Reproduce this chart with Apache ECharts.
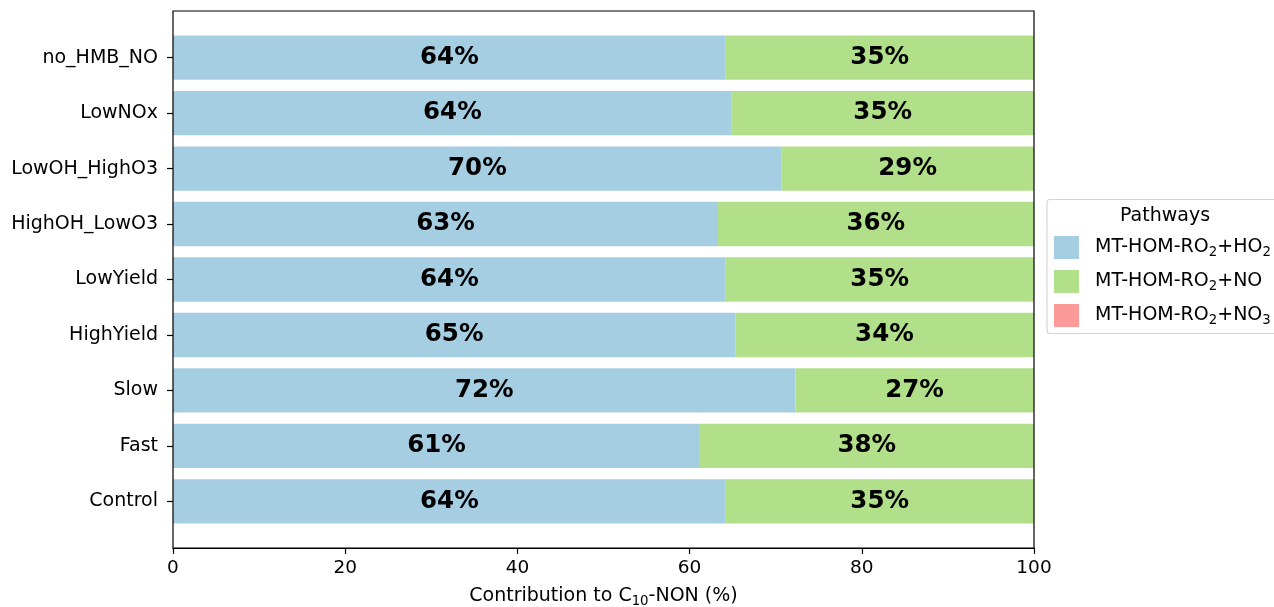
<!DOCTYPE html>
<html>
<head>
<meta charset="utf-8">
<script src="https://cdn.jsdelivr.net/npm/echarts@6/dist/echarts.min.js"></script>
<style>
  html, body { margin: 0; padding: 0; background: #fff; }
  #chart { width: 1274px; height: 607px; }
</style>
</head>
<body>
<div id="chart"></div>
<script>
// Model scenarios, listed bottom to top
const scenarios = ['Control', 'Fast', 'Slow', 'HighYield', 'LowYield',
                   'HighOH_LowO3', 'LowOH_HighO3', 'LowNOx', 'no_HMB_NO'];

// Share of C10-NON formed through each RO2 pathway (%)
const viaHO2 = [64.2, 61.2, 72.3, 65.3, 64.2, 63.3, 70.7, 64.9, 64.2];
const viaNO  = [35.75, 38.75, 27.65, 34.65, 35.75, 36.65, 29.25, 35.05, 35.75];
const viaNO3 = [0.05, 0.05, 0.05, 0.05, 0.05, 0.05, 0.05, 0.05, 0.05];

const pathwayNames = ['MT-HOM-RO2+HO2', 'MT-HOM-RO2+NO', 'MT-HOM-RO2+NO3'];
const pathwayColors = ['#a6cee3', '#b2df8a', '#fb9a99'];
const xTicks = [0, 20, 40, 60, 80, 100];

const FONT = 'DejaVu Sans';
const TXT = 19;

// Chemical formulas: digits after the species become subscripts
function formula(name) {
  return name.replace(/(RO|HO|NO)(\d)/g, '$1\u0001$2\u0002')
    .split(/(\u0001\d\u0002)/)
    .filter(s => s.length)
    .map(s => s.charAt(0) === '\u0001' ? '{s|' + s.slice(1, -1) + '}' : '{m|' + s + '}')
    .join('');
}

const richText = {
  m: { fontFamily: FONT, fontSize: TXT, lineHeight: 24, color: '#000' },
  s: { fontFamily: FONT, fontSize: 13.3, lineHeight: 12, verticalAlign: 'bottom', color: '#000' }
};

const seriesData = [viaHO2, viaNO, viaNO3];
const series = pathwayNames.map((name, i) => ({
  name: name,
  type: 'bar',
  stack: 'total',
  xAxisIndex: 1,
  yAxisIndex: 1,
  barCategoryGap: '20%',
  data: seriesData[i],
  itemStyle: { color: pathwayColors[i] },
  label: {
    show: i < 2,
    position: 'inside',
    formatter: p => Math.floor(p.value) + '%',
    color: '#000',
    fontFamily: FONT,
    fontWeight: 'bold',
    fontSize: 24.5
  },
  emphasis: { disabled: true }
}));

const chart = echarts.init(document.getElementById('chart'), null, { renderer: 'canvas' });
chart.setOption({
  animation: false,
  backgroundColor: '#fff',
  grid: [
    // frame and value axis
    { left: 173, right: 240, top: 11, bottom: 59, show: true, outerBoundsMode: 'none',
      borderColor: '#000', borderWidth: 1.2, backgroundColor: 'transparent', z: 10 },
    // bar area (padded like the scenario axis limits)
    { left: 173, right: 240, top: 29.9, bottom: 77.9, outerBoundsMode: 'none' }
  ],
  xAxis: [
    {
      gridIndex: 0, type: 'value', min: 0, max: 100, interval: 20,
      axisLine: { show: true, lineStyle: { color: '#000', width: 1.2 } },
      axisTick: { show: true, length: 6, lineStyle: { color: '#000', width: 1.2 } },
      axisLabel: { color: '#000', fontFamily: FONT, fontSize: 18.5, margin: 11,
                   formatter: v => xTicks.includes(v) ? String(v) : '' },
      splitLine: { show: false },
      name: '{m|Contribution to C}{s|10}{m|-NON (%)}',
      nameLocation: 'middle',
      nameGap: 36,
      nameTextStyle: { color: '#000', fontFamily: FONT, fontSize: TXT, rich: richText }
    },
    {
      gridIndex: 1, type: 'value', min: 0, max: 100, show: false
    }
  ],
  yAxis: [
    { gridIndex: 0, type: 'value', show: false, min: 0, max: 1 },
    {
      gridIndex: 1, type: 'category', data: scenarios,
      axisLine: { show: false },
      axisTick: { show: true, alignWithLabel: true, length: 6,
                  lineStyle: { color: '#000', width: 1.2 } },
      axisLabel: { color: '#000', fontFamily: FONT, fontSize: TXT, margin: 15 },
      splitLine: { show: false }
    }
  ],
  legend: {
    orient: 'vertical',
    left: 1054,
    top: 236,
    padding: 0,
    itemWidth: 25,
    itemHeight: 23,
    itemGap: 10.5,
    icon: 'rect',
    data: pathwayNames,
    formatter: name => formula(name),
    textStyle: {
      color: '#000', fontFamily: FONT, fontSize: TXT,
      padding: [0, 0, 0, 11],
      rich: richText
    },
    selectedMode: false
  },
  graphic: [
    {
      type: 'rect', z: -1,
      shape: { x: 1047, y: 199.5, width: 260, height: 134, r: 3 },
      style: { fill: '#fff', stroke: '#d4d4d4', lineWidth: 1.2 }
    },
    {
      type: 'text',
      x: 1165, y: 216,
      style: { text: 'Pathways', fill: '#000', font: '19px "DejaVu Sans"',
               textAlign: 'center', textVerticalAlign: 'middle' }
    }
  ],
  series: series
});
</script>
</body>
</html>
